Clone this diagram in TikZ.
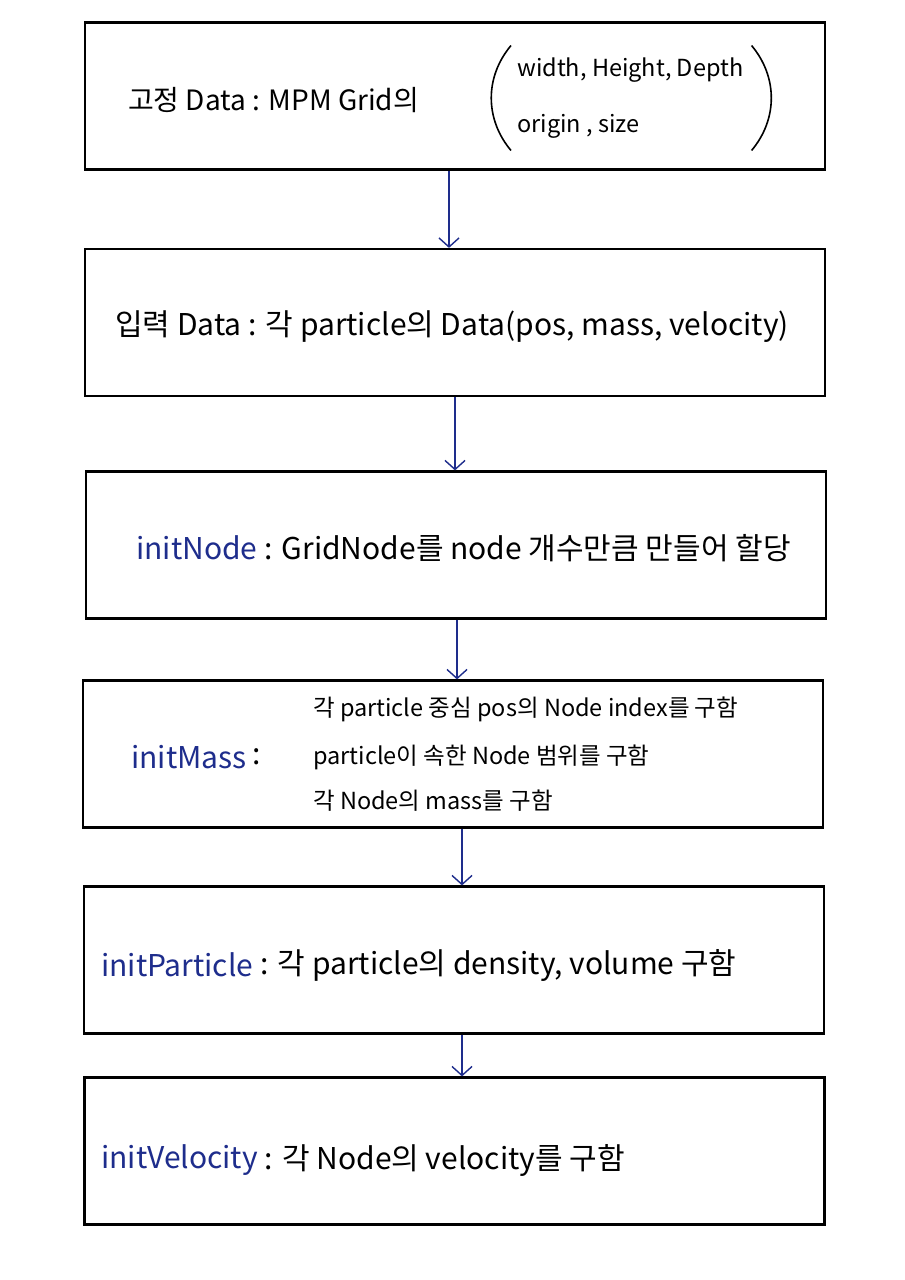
\documentclass[tikz,border=0pt]{standalone}
\usepackage{fontspec}
\setmainfont{Noto Sans CJK KR}
\usetikzlibrary{arrows.meta}
\definecolor{ink}{RGB}{30,45,140}
\tikzset{
  box/.style={draw=black, line width=2.2pt, minimum width=740pt, minimum height=147pt, inner sep=0pt},
  txt/.style={anchor=west, inner sep=0pt, font=\fontsize{30}{34}\selectfont},
  small/.style={anchor=west, inner sep=0pt, font=\fontsize{23.5}{27}\selectfont},
  paren/.style={draw=black, line width=1.6pt},
  arr/.style={draw=ink, line width=1.4pt, -{Straight Barb[length=9pt,width=20pt,line width=1.4pt]}}
}
\begin{document}
\begin{tikzpicture}[x=1pt,y=-1pt]
\useasboundingbox (0,0) rectangle (905,1280);
\fill[white] (0,0) rectangle (905,1280);
% boxes
\node[box] (b1) at (455,96) {};
\node[box] (b2) at (455,322.5) {};
\node[box] (b3) at (456,545) {};
\node[box] (b4) at (453,754) {};
\node[box] (b5) at (454,960) {};
\node[box] (b6) at (454.5,1151) {};
% box 1
\node[txt, font=\fontsize{28}{32}\selectfont] (t1) at (128,100) {고정 Data : MPM Grid의};
\node[anchor=west, inner sep=0pt, align=left, font=\fontsize{23.5}{56}\selectfont] (p1) at (517,98)
  {width, Height, Depth\\origin , size};
\draw[paren] ([shift={(-6,-12)}]p1.north west) to[bend right=40] ([shift={(-6,12)}]p1.south west);
\draw[paren] ([shift={(8,-12)}]p1.north east) to[bend left=40] ([shift={(8,12)}]p1.south east);
% box 2
\node[txt] (t2) at (115,327) {입력 Data : 각 particle의 Data(pos, mass, velocity)};
% box 3
\node[txt] (t3a) at (136,548) {\textcolor{ink}{initNode}};
\node[txt] (t3b) at (t3a.east) {\ : GridNode를 node 개수만큼 만들어 할당};
% box 4
\node[txt] (t4a) at (131,757) {\textcolor{ink}{initMass}};
\node[txt] (t4c) at (t4a.east) {\,:};
\node[small] (l1) at (313,709) {각 particle 중심 pos의 Node index를 구함};
\node[small] (l2) at (313,757) {particle이 속한 Node 범위를 구함};
\node[small] (l3) at (313,801) {각 Node의 mass를 구함};
% box 5
\node[txt] (t5a) at (101,965) {\textcolor{ink}{initParticle}};
\node[txt] (t5b) at (t5a.east) {\ : 각 particle의 density, volume 구함};
% box 6
\node[txt] (t6a) at (101,1160) {\textcolor{ink}{initVelocity}};
\node[txt] (t6b) at (t6a.east) {\ : 각 Node의 velocity를 구함};
% arrows
\draw[arr] ([xshift=-6pt]b1.south) -- ([xshift=-6pt]b1.south |- b2.north);
\draw[arr] (b2.south) -- (b2.south |- b3.north);
\draw[arr] ([xshift=1pt]b3.south) -- ([xshift=1pt]b3.south |- b4.north);
\draw[arr] ([xshift=9pt]b4.south) -- ([xshift=9pt]b4.south |- b5.north);
\draw[arr] ([xshift=8pt]b5.south) -- ([xshift=8pt]b5.south |- b6.north);
\end{tikzpicture}
\end{document}
